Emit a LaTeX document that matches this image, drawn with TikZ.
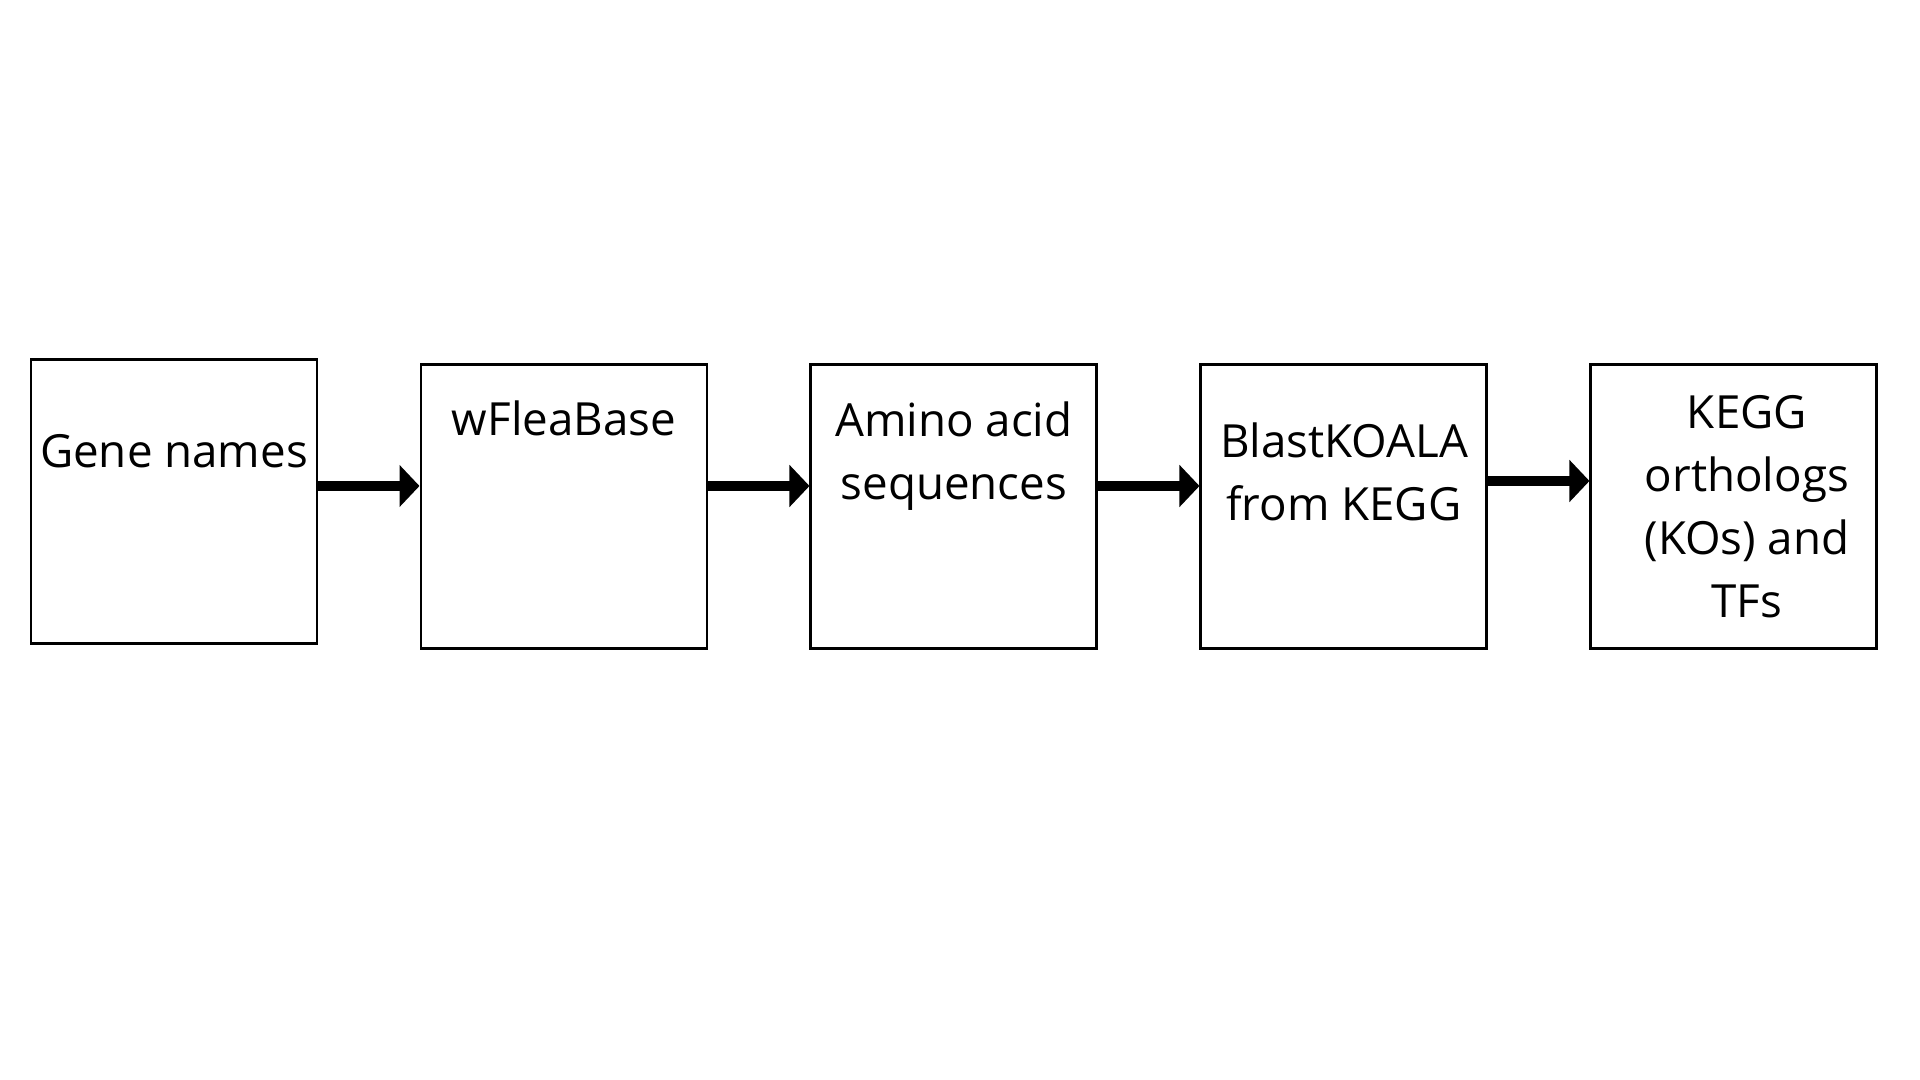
\documentclass[tikz,border=0pt]{standalone}
\usepackage{fontspec}
\setmainfont{Open Sans}
\usetikzlibrary{positioning,arrows.meta}
\tikzset{
    stage/.style={draw, line width=0.85pt, minimum width=2.86cm, minimum height=2.84cm, inner sep=0pt},
    stagetext/.style={align=center, inner sep=0pt, font=\fontsize{13}{17.9}\selectfont},
    flow/.style={line width=0.1cm, -{Triangle[length=0.2cm,width=0.41cm]}}
}
\begin{document}
\begin{tikzpicture}
                \useasboundingbox (0,0) rectangle (19.2,10.8);
                \node[stage] (genes) at (1.74,5.78) {};
                \node[stage, right=1.01cm of genes, yshift=-0.045cm] (wflea) {};
                \node[stage, right=1.01cm of wflea] (amino) {};
                \node[stage, right=1.01cm of amino] (blast) {};
                \node[stage, right=1.01cm of blast] (kegg) {};
                \node[stagetext] (genestext) at ([yshift=0.51cm]genes.center) {Gene names};
                \node[stagetext] (wfleatext) at ([yshift=0.88cm]wflea.center) {wFleaBase};
                \node[stagetext] (aminotext) at ([yshift=0.5cm]amino.center) {Amino acid\\sequences};
                \node[stagetext] (blasttext) at ([yshift=0.35cm]blast.center) {BlastKOALA\\from KEGG};
                \node[stagetext] (keggtext) at ([xshift=0.13cm]kegg.center) {KEGG\\orthologs\\(KOs) and\\TFs};
                \draw[flow] ([yshift=0.16cm]genes.east) -- ([yshift=0.16cm]genes.east -| wflea.west);
                \draw[flow] ([yshift=0.205cm]wflea.east) -- ([yshift=0.205cm]wflea.east -| amino.west);
                \draw[flow] ([yshift=0.205cm]amino.east) -- ([yshift=0.205cm]amino.east -| blast.west);
                \draw[flow] ([yshift=0.255cm]blast.east) -- ([yshift=0.255cm]blast.east -| kegg.west);
            \end{tikzpicture}
\end{document}
